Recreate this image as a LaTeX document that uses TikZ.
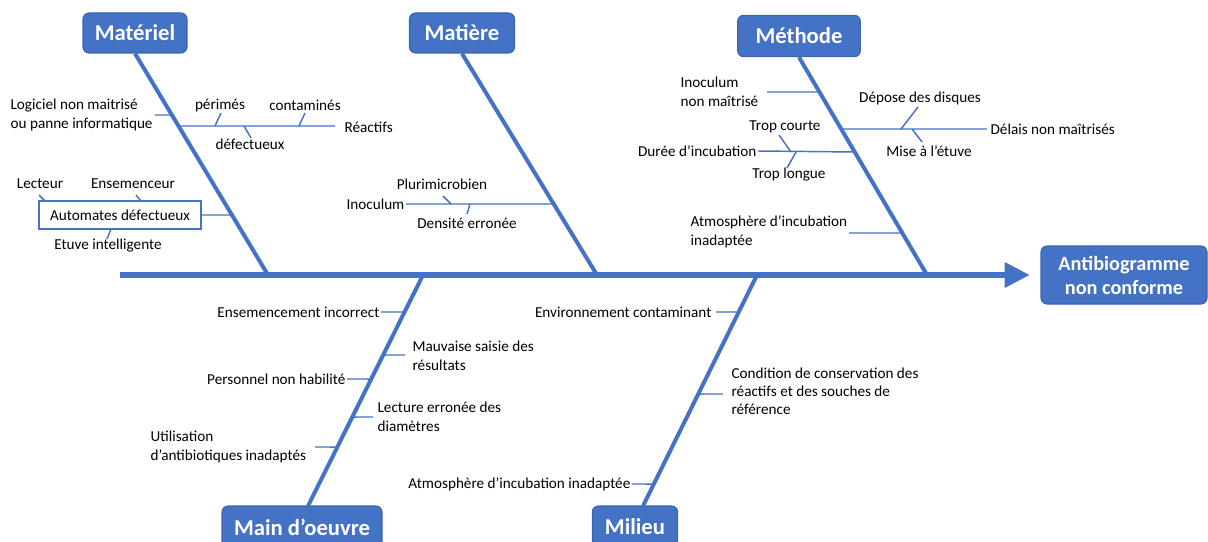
\documentclass[tikz,border=0pt]{standalone}
\usepackage{fontspec}
\setmainfont{Carlito}
\usetikzlibrary{arrows.meta}
\definecolor{fb}{HTML}{4472C4}
\definecolor{fbd}{HTML}{3A64B0}
\begin{document}
\begin{tikzpicture}[x=0.75pt,y=-0.75pt,
  bone/.style={fb, line width=3pt},
  twig/.style={fb, line width=1.1pt},
  lbl/.style={font=\fontsize{11.4}{14.3}\selectfont, text=black, inner sep=1pt, align=left},
  head/.style={fill=fb, draw=fbd, line width=0.8pt, rounded corners=4.5pt, text=white,
    font=\fontsize{17}{18}\selectfont\bfseries, inner sep=0pt, align=center}]
\useasboundingbox (0,0) rectangle (1208,542);
\clip (0,0) rectangle (1208,542);

% headers
\node[head, minimum width=78pt, minimum height=30pt] (mat) at (135,33) {Matériel};
\node[head, minimum width=78.75pt, minimum height=30pt] (mai) at (462,33) {Matière};
\node[head, minimum width=92pt, minimum height=31pt] (met) at (799,36) {Méthode};
\node[head, minimum width=120pt, minimum height=31.5pt] (mo) at (302,527) {Main d’oeuvre};
\node[head, minimum width=64pt, minimum height=31.5pt] (mil) at (635,527) {Milieu};
\node[head, minimum width=124.5pt, minimum height=43.5pt, font=\fontsize{15.2}{18}\selectfont\bfseries] (eff) at (1124,275) {Antibiogramme\\non conforme};

% spine
\coordinate (s0) at (120,275);
\coordinate (tip) at (1030,275);
\draw[fb, line width=5pt, -{Triangle[length=19pt,width=18pt]}] (s0) -- (tip);

% bones
\coordinate (matb) at (268,275);
\coordinate (maib) at (597,275);
\coordinate (metb) at (927,275);
\coordinate (mot) at (423,275);
\coordinate (milt) at (757,275);
\coordinate (mobot) at (308,506);
\coordinate (milbot) at (643,506);
\draw[bone] (mat.south) -- (matb);
\draw[bone] (mai.south) -- (maib);
\draw[bone] (met.south) -- (metb);
\draw[bone] (mot) -- (mobot);
\draw[bone] (milt) -- (milbot);

% ---- Materiel
\node[lbl, anchor=west] (log) at (9,114.5) {Logiciel non maitrisé\\ou panne informatique};
\coordinate (loge) at (155,115);
\coordinate (logb) at (intersection of mat.south--matb and 0,115--10,115);
\draw[twig] (loge) -- (logb);

\node[lbl, anchor=west] (rea) at (343,127) {Réactifs};
\coordinate (reae) at (335,126);
\coordinate (reab) at (intersection of mat.south--matb and 0,126--10,126);
\draw[twig] (reab) -- (reae);
\node[lbl] (per) at (220,105) {périmés};
\node[lbl] (con) at (305,105) {contaminés};
\node[lbl] (def) at (250,144) {défectueux};
\coordinate (perx) at (215,126);
\coordinate (conx) at (299,126);
\coordinate (defx) at (244,126);
\draw[twig] (perx) -- ++(6,-13);
\draw[twig] (conx) -- ++(6,-13);
\draw[twig] (defx) -- ++(7,12);

\node[lbl, draw=fb, line width=1.1pt, minimum width=121.5pt, minimum height=21pt] (aut) at (120,215) {Automates défectueux};
\coordinate (autb) at (intersection of mat.south--matb and 0,215--10,215);
\draw[twig] (aut.east) -- (autb);
\node[lbl] (lec) at (40,184) {Lecteur};
\node[lbl] (ens) at (133,184) {Ensemenceur};
\node[lbl] (etu) at (108,246) {Etuve intelligente};
\coordinate (lecx) at (45,201);
\coordinate (ensx) at (141,201);
\coordinate (etux) at (111,229);
\draw[twig] (lecx) -- ++(-6,-6);
\draw[twig] (ensx) -- ++(-5,-6);
\draw[twig] (etux) -- ++(-4,10);

% ---- Matiere
\node[lbl, anchor=east] (ino) at (406,204) {Inoculum};
\coordinate (inob) at (intersection of mai.south--maib and 0,204--10,204);
\draw[twig] (ino.east) -- (inob);
\node[lbl] (plu) at (442,184) {Plurimicrobien};
\node[lbl] (den) at (467,223) {Densité erronée};
\coordinate (plux) at (451,204);
\coordinate (denx) at (470,204);
\draw[twig] (plux) -- ++(-8,-8);
\draw[twig] (denx) -- ++(-3,10);

% ---- Methode
\node[lbl, anchor=west] (inm) at (679,92) {Inoculum\\non maîtrisé};
\coordinate (inme) at (767,92);
\coordinate (inmb) at (intersection of met.south--metb and 0,92--10,92);
\draw[twig] (inme) -- (inmb);

\node[lbl, anchor=west] (del) at (989,129) {Délais non maîtrisés};
\coordinate (dele) at (987,129);
\coordinate (delb) at (intersection of met.south--metb and 0,129--10,129);
\draw[twig] (delb) -- (dele);
\node[lbl] (dep) at (920,98) {Dépose des disques};
\node[lbl] (mis) at (929,151) {Mise à l’étuve};
\coordinate (depx) at (901,129);
\coordinate (misx) at (912,129);
\draw[twig] (depx) -- ++(17,-22);
\draw[twig] (misx) -- ++(10,13);

\node[lbl, anchor=east] (dur) at (758,151) {Durée d’incubation};
\coordinate (durb) at (intersection of met.south--metb and 0,152--10,152);
\draw[twig] (dur.east) -- (durb);
\node[lbl] (tco) at (785,127) {Trop courte};
\node[lbl] (tlo) at (789,175) {Trop longue};
\coordinate (tcox) at (791,152);
\coordinate (tlox) at (796,152);
\draw[twig] (tcox) -- ++(-12,-17);
\draw[twig] (tlox) -- ++(-9,16);

\node[lbl, anchor=west] (atm) at (689,232) {Atmosphère d’incubation\\inadaptée};
\coordinate (atme) at (849,233);
\coordinate (atmb) at (intersection of met.south--metb and 0,233--10,233);
\draw[twig] (atme) -- (atmb);

% ---- Main d'oeuvre
\node[lbl, anchor=east] (eni) at (381,312) {Ensemencement incorrect};
\coordinate (enib) at (intersection of mot--mobot and 0,312--10,312);
\draw[twig] (eni.east) -- (enib);

\node[lbl, anchor=west] (mau) at (411,355.5) {Mauvaise saisie des\\résultats};
\coordinate (maue) at (405,355);
\coordinate (maub) at (intersection of mot--mobot and 0,355--10,355);
\draw[twig] (maub) -- (maue);

\node[lbl, anchor=east] (pers) at (347,379) {Personnel non habilité};
\coordinate (persb) at (intersection of mot--mobot and 0,379--10,379);
\draw[twig] (pers.east) -- (persb);

\node[lbl, anchor=west] (lce) at (376,417) {Lecture erronée des\\diamètres};
\coordinate (lcee) at (373,417);
\coordinate (lceb) at (intersection of mot--mobot and 0,417--10,417);
\draw[twig] (lceb) -- (lcee);

\node[lbl, anchor=west] (uti) at (149,447) {Utilisation\\d’antibiotiques inadaptés};
\coordinate (utie) at (315,447);
\coordinate (utib) at (intersection of mot--mobot and 0,447--10,447);
\draw[twig] (utie) -- (utib);

% ---- Milieu
\node[lbl, anchor=east] (env) at (713,312) {Environnement contaminant};
\coordinate (enve) at (716,312);
\coordinate (envb) at (intersection of milt--milbot and 0,312--10,312);
\draw[twig] (enve) -- (envb);

\node[lbl, anchor=west, font=\fontsize{11.4}{13.6}\selectfont] (cond) at (730,391) {Condition de conservation des\\réactifs et des souches de\\référence};
\coordinate (conde) at (723,394);
\coordinate (condb) at (intersection of milt--milbot and 0,394--10,394);
\draw[twig] (condb) -- (conde);

\node[lbl, anchor=east] (atm2) at (632,484) {Atmosphère d’incubation inadaptée};
\coordinate (atm2b) at (intersection of milt--milbot and 0,484--10,484);
\draw[twig] (atm2.east) -- (atm2b);
\end{tikzpicture}
\end{document}
